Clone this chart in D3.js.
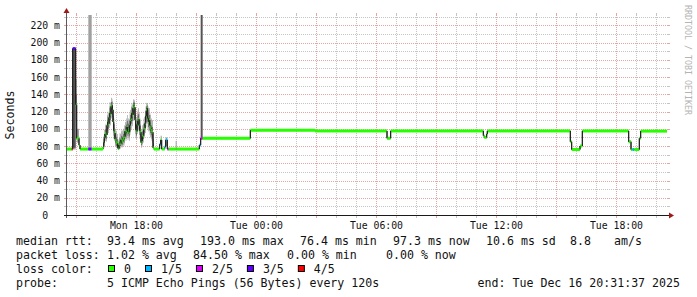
<!DOCTYPE html>
<html>
<head>
<meta charset="utf-8">
<script src="https://cdn.jsdelivr.net/npm/d3@7"></script>
<style>
  body { margin: 0; background: #fff; }
  svg { display: block; font-family: "DejaVu Sans Mono", monospace; }
  text { white-space: pre; }
</style>
</head>
<body>
<svg id="svg" width="697" height="297"></svg>
<script>
//Globals
const SVG = d3.select("#svg");
const PLOT = { left: 67, right: 667, top: 15, bottom: 215 };
const START = new Date(2025, 11, 15, 14, 31, 37);
const END = new Date(2025, 11, 16, 20, 31, 37);
const Y_MAX = 232;

// each sample starts at this many minutes after START and lasts until the next one
const SAMPLE_MIN = [0, 14, 17, 26, 29, 36, 39, 64, 74,
  108, 110, 112, 114, 116, 118, 120, 122, 124, 126,
  128, 130, 132, 134, 136, 138, 140, 142, 144, 146,
  148, 150, 152, 154, 156, 158, 160, 162, 164, 166,
  168, 170, 172, 174, 176, 178, 180, 182, 184, 186,
  188, 190, 192, 194, 196, 198, 200, 202, 204, 206,
  208, 210, 212, 214, 216, 218, 220, 222, 224, 226,
  228, 230, 232, 234, 236, 238, 240, 242, 244, 246,
  248, 250, 252, 254, 256, 258,
  261, 278, 281, 284, 293, 296, 301, 305, 326, 329, 397, 401, 407, 550, 744, 960, 971,
  1249, 1252, 1259, 1261, 1510, 1514, 1539, 1546, 1685, 1692, 1697, 1702, 1717, 1721];

const MEDIAN_MS = [76.5, 76.5, 193, 128, 89, 81, 76.5, 76.5, 76.5,
  79, 84, 90, 94, 95, 93, 104, 108, 106, 113,
  118, 117, 126, 127, 122, 108, 98, 95, 88, 86,
  84, 83, 78, 77, 81, 84, 83, 87, 85, 86,
  89, 88, 91, 97, 95, 98, 102, 97, 99, 96,
  104, 109, 112, 118, 116, 124, 127, 125, 110, 99,
  97, 105, 109, 111, 104, 98, 96, 84, 86, 91,
  92, 99, 101, 106, 115, 121, 124, 112, 108, 110,
  104, 101, 98, 96, 96, 78,
  76.5, 82, 87, 76.5, 79, 87, 76.5, 76.5, 76.5, 76.5, 81, 89, 89, 98.3, 97.5, 89, 97.5,
  92, 90, 94, 97.5, 85, 76, 80, 97.5, 85, 76, 76, 76, 89, 97.3];

// lost pings out of 5
const LOSS = [0, 4, 3, 0, 0, 0, 0, 3, 0,
  0, 0, 0, 0, 0, 0, 0, 0, 0, 0,
  0, 0, 0, 0, 0, 0, 0, 0, 0, 0,
  0, 0, 0, 0, 0, 0, 0, 0, 0, 0,
  0, 0, 0, 0, 0, 0, 0, 0, 0, 0,
  0, 0, 0, 0, 0, 0, 0, 0, 0, 0,
  0, 0, 0, 0, 0, 0, 0, 0, 0, 0,
  0, 0, 0, 0, 0, 0, 0, 0, 0, 0,
  0, 0, 0, 0, 0, 0,
  0, 1, 0, 0, 1, 1, 2, 0, 0, 0, 1, 2, 0, 0, 0, 0, 0,
  0, 0, 0, 0, 0, 0, 0, 0, 0, 0, 1, 0, 0, 0];

// outer smoke (fastest / slowest ping)
const SMOKE_LO = [null, null, 76, 102, 84, null, null, 76, null,
  76, 78, 82, 86, 86, 85, 93, 97, 95, 101,
  105, 104, 112, 114, 108, 96, 88, 86, 80, 79,
  78, 77, 76, 76, 76, 78, 77, 80, 78, 79,
  81, 80, 83, 88, 86, 88, 91, 87, 89, 86,
  93, 97, 100, 105, 103, 110, 113, 111, 98, 89,
  88, 94, 97, 99, 93, 88, 86, 78, 79, 83,
  84, 89, 91, 95, 102, 107, 110, 100, 97, 98,
  93, 90, 88, 86, 84, 76,
  null, null, 80, null, null, 80, null, null, 76, null, null, null, null, null, null, null, null,
  null, null, null, null, null, null, null, null, null, null, null, null, null, null];
const SMOKE_HI = [null, null, 193, 157, 100, null, null, 300, null,
  86, 92, 99, 104, 106, 104, 116, 120, 118, 126,
  131, 130, 136, 135, 132, 122, 112, 106, 100, 98,
  96, 94, 88, 86, 90, 95, 94, 98, 96, 98,
  100, 100, 104, 108, 108, 112, 116, 110, 112, 110,
  118, 122, 126, 130, 128, 134, 134, 133, 124, 114,
  112, 118, 122, 124, 118, 112, 110, 98, 100, 104,
  106, 112, 114, 120, 126, 130, 130, 126, 122, 124,
  118, 116, 112, 110, 110, 88,
  null, null, 92, null, null, 90, null, null, 86, null, null, null, null, null, null, null, null,
  null, null, null, null, null, null, null, null, null, null, null, null, null, null];

// inner smoke (2nd / 4th ping)
const CORE_LO = [null, null, 78, 110, null, null, null, null, null,
  77, 80, 85, 89, 90, 88, 98, 102, 100, 106,
  111, 110, 118, 120, 114, 102, 92, 90, 84, 82,
  80, 79, 77, 76, 78, 80, 80, 83, 81, 82,
  85, 84, 87, 92, 90, 93, 96, 92, 94, 91,
  98, 103, 106, 111, 109, 117, 120, 118, 104, 94,
  92, 99, 103, 105, 98, 93, 91, 81, 82, 87,
  88, 94, 96, 100, 108, 114, 116, 106, 102, 104,
  98, 95, 93, 91, 89, 77,
  null, null, null, null, null, null, null, null, null, null, null, 89, null, null, null, null, null,
  null, null, null, null, null, null, null, null, null, null, null, null, null, null];
const CORE_HI = [null, null, 193, 140, null, null, null, null, null,
  83, 88, 94, 99, 100, 98, 110, 114, 112, 119,
  124, 123, 131, 131, 127, 115, 105, 100, 94, 91,
  90, 88, 83, 81, 86, 89, 88, 92, 90, 91,
  94, 93, 97, 103, 101, 105, 109, 104, 106, 103,
  111, 116, 119, 125, 123, 130, 131, 130, 117, 106,
  104, 111, 115, 117, 110, 105, 103, 91, 93, 97,
  98, 105, 107, 112, 121, 126, 127, 119, 114, 116,
  110, 107, 104, 102, 102, 83,
  null, null, null, null, null, null, null, null, null, null, null, 300, null, null, null, null, null,
  null, null, null, null, null, null, null, null, null, null, null, null, null, null];

const LOSS_LABELS = ["0", "1/5", "2/5", "3/5", "4/5"];
const LOSS_COLORS = ["#26ff00", "#00b8ff", "#dd00ff", "#5e00ff", "#ff0000"];
const Y_TICKS = [0, 20, 40, 60, 80, 100, 120, 140, 160, 180, 200, 220];
const Y_MINOR = [10, 30, 50, 70, 90, 110, 130, 150, 170, 190, 210, 230];

const LEGEND_LINES = [
  [[16, "median rtt:"], [107, "93.4 ms avg"], [200, "193.0 ms max"], [300, "76.4 ms min"],
   [393, "97.3 ms now"], [486, "10.6 ms sd"], [570, "8.8"], [614, "am/s"]],
  [[16, "packet loss:"], [107, "1.02 % avg"], [193, "84.50 % max"], [287, "0.00 % min"], [386, "0.00 % now"]],
  [[16, "loss color:"]],
  [[16, "probe:"], [107, "5 ICMP Echo Pings (56 Bytes) every 120s"]]
];
const END_LABEL = "end: Tue Dec 16 20:31:37 2025";

const MINOR_GRID = "#c4c4c4";
const MAJOR_GRID = "#e8a4a4";
const SMOKE_COLOR = "#a0a0a0";
const CORE_COLOR = "#555555";
const MEDIAN_COLOR = "#202020";

window.addEventListener("load", main);

function main()
{
    let x_scale = d3.scaleTime().domain([START, END]).range([PLOT.left, PLOT.right]);
    let y_scale = d3.scaleLinear().domain([0, Y_MAX]).range([PLOT.bottom, PLOT.top]);

    let samples = SAMPLE_MIN.map((m, i) => ({
        t0: d3.timeMinute.offset(START, m),
        t1: d3.timeMinute.offset(START, i + 1 < SAMPLE_MIN.length ? SAMPLE_MIN[i + 1] : 1800),
        med: MEDIAN_MS[i], loss: LOSS[i],
        lo: SMOKE_LO[i], hi: SMOKE_HI[i], clo: CORE_LO[i], chi: CORE_HI[i]
    }));

    SVG.append("defs").append("clipPath").attr("id", "plot-clip")
        .append("rect")
        .attr("x", PLOT.left).attr("y", PLOT.top)
        .attr("width", PLOT.right - PLOT.left).attr("height", PLOT.bottom - PLOT.top);

    drawGrid(x_scale, y_scale);

    //Smoke
    let data_g = SVG.append("g").attr("clip-path", "url(#plot-clip)");
    data_g.append("g").selectAll("rect")
        .data(samples.filter(s => s.lo !== null))
        .enter().append("rect")
        .attr("x", s => x_scale(s.t0))
        .attr("width", s => x_scale(s.t1) - x_scale(s.t0))
        .attr("y", s => y_scale(s.hi))
        .attr("height", s => y_scale(s.lo) - y_scale(s.hi))
        .attr("fill", SMOKE_COLOR);
    data_g.append("g").selectAll("rect")
        .data(samples.filter(s => s.clo !== null))
        .enter().append("rect")
        .attr("x", s => x_scale(s.t0))
        .attr("width", s => x_scale(s.t1) - x_scale(s.t0))
        .attr("y", s => y_scale(s.chi))
        .attr("height", s => y_scale(s.clo) - y_scale(s.chi))
        .attr("fill", CORE_COLOR);

    //Median line
    let points = samples.map(s => [x_scale(s.t0), y_scale(s.med)]);
    points.push([x_scale(END), y_scale(MEDIAN_MS[MEDIAN_MS.length - 1])]);
    data_g.append("path")
        .attr("d", d3.line().curve(d3.curveStepAfter)(points))
        .attr("fill", "none")
        .attr("stroke", MEDIAN_COLOR)
        .attr("stroke-width", 1);

    //Median coloured by loss
    data_g.append("g").selectAll("rect")
        .data(samples)
        .enter().append("rect")
        .attr("x", s => x_scale(s.t0))
        .attr("width", s => x_scale(s.t1) - x_scale(s.t0))
        .attr("y", s => y_scale(s.med) - 1.5)
        .attr("height", 3)
        .attr("fill", s => LOSS_COLORS[s.loss]);

    //Jumps of the median stay visible above the coloured band
    data_g.append("g").selectAll("line")
        .data(samples.slice(1).map((s, i) => [samples[i], s]).filter(([a, b]) => Math.abs(a.med - b.med) > 3))
        .enter().append("line")
        .attr("x1", ([a, b]) => x_scale(b.t0))
        .attr("x2", ([a, b]) => x_scale(b.t0))
        .attr("y1", ([a, b]) => y_scale(a.med))
        .attr("y2", ([a, b]) => y_scale(b.med))
        .attr("stroke", MEDIAN_COLOR)
        .attr("stroke-width", 1);

    drawAxes(x_scale, y_scale);
    drawLegend();
}

function drawGrid(x_scale, y_scale)
{
    let g = SVG.append("g");
    let hLine = (v, color) => {
        let y = Math.round(y_scale(v)) + 0.5;
        g.append("line").attr("x1", PLOT.left).attr("x2", PLOT.right).attr("y1", y).attr("y2", y)
            .attr("stroke", color).attr("stroke-dasharray", "1,1");
        g.append("line").attr("x1", PLOT.left - 3).attr("x2", PLOT.left).attr("y1", y).attr("y2", y).attr("stroke", color);
        g.append("line").attr("x1", PLOT.right).attr("x2", PLOT.right + 3).attr("y1", y).attr("y2", y).attr("stroke", color);
    };
    let vLine = (t, color) => {
        let x = Math.round(x_scale(t)) + 0.5;
        g.append("line").attr("x1", x).attr("x2", x).attr("y1", PLOT.top).attr("y2", PLOT.bottom)
            .attr("stroke", color).attr("stroke-dasharray", "1,1");
        g.append("line").attr("x1", x).attr("x2", x).attr("y1", PLOT.top - 2).attr("y2", PLOT.top).attr("stroke", color);
        g.append("line").attr("x1", x).attr("x2", x).attr("y1", PLOT.bottom).attr("y2", PLOT.bottom + 3).attr("stroke", color);
    };
    Y_MINOR.forEach(v => hLine(v, MINOR_GRID));
    Y_TICKS.filter(v => v > 0).forEach(v => hLine(v, MAJOR_GRID));
    x_scale.ticks(d3.timeHour.every(1)).filter(t => t.getHours() % 3 !== 0).forEach(t => vLine(t, MINOR_GRID));
    x_scale.ticks(d3.timeHour.every(3)).forEach(t => vLine(t, MAJOR_GRID));
}

function drawAxes(x_scale, y_scale)
{
    let g = SVG.append("g");
    //Axis lines and arrows
    g.append("line").attr("x1", PLOT.left - 0.5).attr("x2", PLOT.left - 0.5)
        .attr("y1", PLOT.bottom + 3).attr("y2", PLOT.top - 4)
        .attr("stroke", "#5a5a5a");
    g.append("line").attr("x1", PLOT.left - 3).attr("x2", PLOT.right + 3)
        .attr("y1", PLOT.bottom + 0.5).attr("y2", PLOT.bottom + 0.5)
        .attr("stroke", "#1a1a1a");
    g.append("path")
        .attr("d", d3.line()([[PLOT.left - 3.5, PLOT.top - 2], [PLOT.left - 0.5, PLOT.top - 7], [PLOT.left + 2.5, PLOT.top - 2]]) + "Z")
        .attr("fill", "#a01818");
    g.append("path")
        .attr("d", d3.line()([[PLOT.right + 2, PLOT.bottom - 2.5], [PLOT.right + 7, PLOT.bottom + 0.5], [PLOT.right + 2, PLOT.bottom + 3.5]]) + "Z")
        .attr("fill", "#a01818");

    //Y tick labels
    g.append("g").selectAll("text")
        .data(Y_TICKS)
        .enter().append("text")
        .attr("x", 60)
        .attr("y", v => y_scale(v) + 3.5)
        .attr("text-anchor", "end")
        .attr("font-size", "9.8px")
        .attr("fill", "#111")
        .text(v => v === 0 ? "0  " : v + " m");

    //X tick labels
    let format = d3.timeFormat("%a %H:%M");
    g.append("g").selectAll("text")
        .data(x_scale.ticks(d3.timeHour.every(6)))
        .enter().append("text")
        .attr("x", t => x_scale(t))
        .attr("y", 229)
        .attr("text-anchor", "middle")
        .attr("font-size", "9.8px")
        .attr("fill", "#111")
        .text(t => format(t));

    //Axis title
    g.append("text")
        .attr("transform", "translate(14, 115) rotate(-90)")
        .attr("text-anchor", "middle")
        .attr("font-size", "11.6px")
        .attr("fill", "#111")
        .text("Seconds");

    //Watermark
    g.append("text")
        .attr("transform", "translate(685, 5) rotate(90)")
        .attr("font-size", "8.3px")
        .attr("fill", "#b4b4b4")
        .text("RRDTOOL / TOBI OETIKER");
}

function drawLegend()
{
    let g = SVG.append("g").attr("font-size", "11.6px").attr("fill", "#111");
    LEGEND_LINES.forEach((line, row) => {
        line.forEach(([x, str]) => {
            g.append("text").attr("x", x).attr("y", 245 + row * 14).text(str);
        });
    });

    //Loss colour boxes
    let x = 108;
    LOSS_LABELS.forEach((label, i) => {
        g.append("rect")
            .attr("x", x + 0.5).attr("y", 265.5)
            .attr("width", 6).attr("height", 6)
            .attr("fill", LOSS_COLORS[i]).attr("stroke", "#000");
        let t = g.append("text").attr("x", x + 16).attr("y", 273).text(label);
        x += 16 + t.node().getComputedTextLength() + 14;
    });

    g.append("text")
        .attr("x", 680).attr("y", 287)
        .attr("text-anchor", "end")
        .text(END_LABEL);
}
</script>
</body>
</html>
